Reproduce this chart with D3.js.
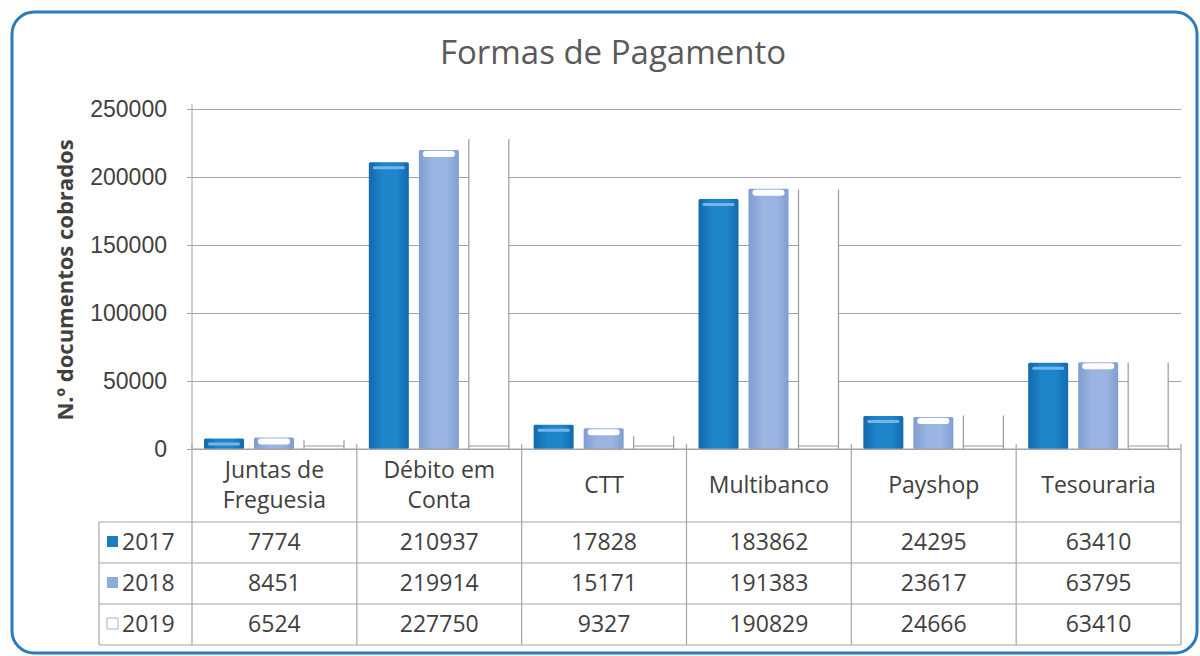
<!DOCTYPE html>
<html>
<head>
<meta charset="utf-8"/>
<title>Formas de Pagamento</title>
<style>
  body { margin: 0; background: #fdfdfb; }
  svg { display: block; font-family: "Open Sans", sans-serif; }
  .grid line { stroke: #a3a3a3; stroke-width: 1; }
  .grid path { display: none; }
  .tick text { fill: #404040; font-size: 23px; }
  .tbl line { stroke: #a6a6a6; stroke-width: 1.2; }
  .tbl text { fill: #404040; font-size: 23px; text-anchor: middle; }
</style>
</head>
<body>
<svg width="1200" height="656"></svg>
<script src="https://cdn.jsdelivr.net/npm/d3@7"></script>
<script>

// data
var categories = ["Juntas de Freguesia", "Débito em Conta", "CTT", "Multibanco", "Payshop", "Tesouraria"];
var categoryLines = [["Juntas de", "Freguesia"], ["Débito em", "Conta"], ["CTT"], ["Multibanco"], ["Payshop"], ["Tesouraria"]];
var years = ["2017", "2018", "2019"];
var values2017 = [7774, 210937, 17828, 183862, 24295, 63410];
var values2018 = [8451, 219914, 15171, 191383, 23617, 63795];
var values2019 = [6524, 227750, 9327, 190829, 24666, 63410];
var yTicks = [0, 50000, 100000, 150000, 200000, 250000];

var series = [values2017, values2018, values2019];

var svg = d3.select("svg");

// outer frame
svg.append("rect")
    .attr("x", 12).attr("y", 12)
    .attr("width", 1185).attr("height", 641)
    .attr("rx", 22)
    .attr("fill", "#fff")
    .attr("stroke", "#2b7bbd")
    .attr("stroke-width", 3);

// scales
var x = d3.scaleBand().domain(categories).range([192, 1181]);
var xYear = d3.scaleBand().domain(years).range([12, 152]).paddingInner(0.2);
var y = d3.scaleLinear().domain([0, 250000]).range([449, 109]);
var rowY = d3.scaleBand().domain(years).range([522, 645]);

// gradients for the bars
var defs = svg.append("defs");
function grad(id, edge, mid) {
  var g = defs.append("linearGradient").attr("id", id).attr("x1", "0").attr("x2", "1").attr("y1", "0").attr("y2", "0");
  g.append("stop").attr("offset", "0%").attr("stop-color", edge);
  g.append("stop").attr("offset", "35%").attr("stop-color", mid);
  g.append("stop").attr("offset", "70%").attr("stop-color", mid);
  g.append("stop").attr("offset", "100%").attr("stop-color", edge);
}
grad("g2017", "#126aad", "#1f85cb");
grad("g2018", "#7f9dd2", "#9ab5e1");

// title
svg.append("text")
    .attr("x", 613).attr("y", 64)
    .attr("text-anchor", "middle")
    .attr("fill", "#595959")
    .style("font-size", "33px")
    .text("Formas de Pagamento");

// y axis title
svg.append("text")
    .attr("transform", "translate(73,280) rotate(-90)")
    .attr("text-anchor", "middle")
    .attr("fill", "#404040")
    .style("font-size", "22px")
    .style("font-weight", "bold")
    .text("N.º documentos cobrados");

// gridlines + labels
var yAxis = svg.append("g")
    .attr("class", "grid")
    .attr("transform", "translate(192,0)")
    .call(d3.axisLeft(y).tickValues(yTicks).tickSize(-989).tickPadding(25).tickFormat(d3.format("d")));
yAxis.selectAll(".tick line").attr("x1", -5);

svg.append("line")
    .attr("x1", 192).attr("x2", 192)
    .attr("y1", 104).attr("y2", 449)
    .attr("stroke", "#a3a3a3");

// bars
var groups = svg.selectAll(".cat")
  .data(categories)
  .enter().append("g")
    .attr("class", "cat")
    .attr("transform", function(d) { return "translate(" + x(d) + ",0)"; });

groups.each(function(cat, ci) {
  var g = d3.select(this);
  years.forEach(function(yr, si) {
    var v = series[si][ci],
        bx = xYear(yr),
        bw = xYear.bandwidth(),
        top = y(v),
        h = y(0) - top;
    if (si < 2) {
      g.append("rect")
          .attr("x", bx).attr("y", top)
          .attr("width", bw).attr("height", h)
          .attr("rx", 1.5)
          .attr("fill", "url(#g" + yr + ")");
      // little highlight near the top, like the 3d bars
      g.append("rect")
          .attr("x", bx + 4).attr("y", top + (si == 0 ? 4 : 1))
          .attr("width", bw - 8).attr("height", si == 0 ? 3 : 6)
          .attr("rx", si == 0 ? 1.5 : 3)
          .attr("fill", si == 0 ? "#74b6e8" : "#ffffff");
    } else {
      g.append("rect")
          .attr("x", bx).attr("y", top)
          .attr("width", bw).attr("height", h)
          .attr("fill", "#fff");
      g.append("path")
          .attr("d", "M" + bx + "," + top + "V" + y(0) + "M" + (bx + bw) + "," + top + "V" + y(0) +
                     "M" + bx + "," + (y(0) - 3) + "H" + (bx + bw))
          .attr("fill", "none")
          .attr("stroke", "#9a9a9a")
          .attr("stroke-width", 1.2);
    }
  });
});

// data table under the chart
var tbl = svg.append("g").attr("class", "tbl");

tbl.append("line").attr("x1", 192).attr("x2", 1181).attr("y1", 449).attr("y2", 449);
[522].concat(years.map(function(yr) { return rowY(yr) + rowY.bandwidth(); })).forEach(function(ly) {
  tbl.append("line").attr("x1", 99).attr("x2", 1181).attr("y1", ly).attr("y2", ly);
});
tbl.append("line").attr("x1", 99).attr("x2", 99).attr("y1", 522).attr("y2", 645);
categories.forEach(function(c) {
  tbl.append("line").attr("x1", x(c)).attr("x2", x(c)).attr("y1", 444).attr("y2", 645);
});
tbl.append("line").attr("x1", 1181).attr("x2", 1181).attr("y1", 444).attr("y2", 645);

// header labels
categories.forEach(function(c, i) {
  var lines = categoryLines[i],
      cx = x(c) + x.bandwidth() / 2,
      y0 = lines.length == 2 ? 478 : 493;
  lines.forEach(function(t, j) {
    tbl.append("text").attr("x", cx).attr("y", y0 + j * 30).text(t);
  });
});

// rows with legend keys
years.forEach(function(yr, si) {
  var ry = rowY(yr) + 28;
  var key = tbl.append("rect")
      .attr("x", 107).attr("y", ry - 14)
      .attr("width", 11).attr("height", 11);
  if (si == 0) key.attr("fill", "#1a7cc2");
  else if (si == 1) key.attr("fill", "#8eaadb");
  else key.attr("fill", "#fff").attr("stroke", "#9ab5e1").attr("stroke-width", 1);
  tbl.append("text").attr("x", 122).attr("y", ry).style("text-anchor", "start").text(yr);
  categories.forEach(function(c, ci) {
    tbl.append("text")
        .attr("x", x(c) + x.bandwidth() / 2)
        .attr("y", ry)
        .text(series[si][ci]);
  });
});

</script>
</body>
</html>
